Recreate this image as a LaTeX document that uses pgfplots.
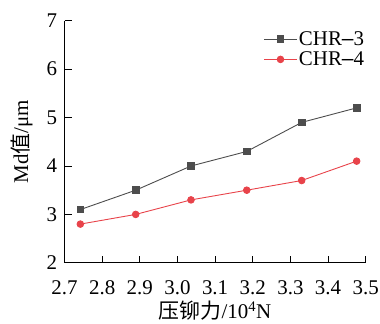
\documentclass[border=0pt]{standalone}
\usepackage{pgfplots}
\pgfplotsset{compat=1.18}
\usepackage{fontspec}
\setmainfont{Liberation Serif}
\newfontfamily\cjk{Noto Sans CJK SC}
\definecolor{cgray}{HTML}{4D4D4D}
\definecolor{cred}{HTML}{E8434A}
\begin{document}
\begin{tikzpicture}
\begin{axis}[
  scale only axis,
  width=301bp, height=242bp,
  xmin=2.7, xmax=3.5, ymin=2, ymax=7,
  xtick={2.7,2.8,...,3.5},
  xticklabels={2.7,2.8,2.9,3.0,3.1,3.2,3.3,3.4,3.5},
  ytick={2,3,4,5,6,7},
  axis x line*=bottom, axis y line*=left,
  tick align=inside,
  major tick length=7bp,
  tick style={black, line width=0.9pt},
  axis line style={black, line width=0.9pt},
  /pgf/number format/assume math mode=true,
  ticklabel style={font=\fontsize{21}{22}\selectfont},
  yticklabel style={xshift=-4bp},
  xticklabel style={yshift=-14bp},
  label style={font=\fontsize{21}{22}\selectfont},
  xlabel={{\cjk 压铆力}/10\textsuperscript{4}N},
  ylabel={Md{\cjk 值}/μm},
  xlabel style={at={(0.5,0)}, anchor=center, yshift=-48bp},
  ylabel style={at={(0,0.5)}, anchor=center, xshift=0bp, yshift=43bp},
  legend style={draw=none, fill=none, at={(1.002,0.965)}, anchor=north east, font=\fontsize{21}{20}\selectfont, row sep=1bp, inner sep=0bp},
  legend cell align=left,
  legend image code/.code={\draw[#1] (0bp,0bp) -- (32bp,0bp); \draw[#1, only marks] plot coordinates {(16bp,0bp)};},
]
\addplot[cgray, line width=0.9pt, mark=square*, mark size=3.3bp, mark options={solid}] coordinates {
(2.742,3.1) (2.889,3.5) (3.036,4.0) (3.184,4.3) (3.330,4.9) (3.476,5.2)};
\addlegendentry{CHR{\fontspec{Liberation Sans}–}3}
\addplot[cred, line width=0.9pt, mark=*, mark size=3.3bp] coordinates {
(2.742,2.8) (2.889,3.0) (3.036,3.3) (3.184,3.5) (3.330,3.7) (3.476,4.1)};
\addlegendentry{CHR{\fontspec{Liberation Sans}–}4}
\end{axis}
\pgfresetboundingbox
\path[use as bounding box] ([shift={(-64.5bp,-61bp)}]current axis.south west) rectangle ([shift={(14.3bp,20.7bp)}]current axis.north east);
\end{tikzpicture}
\end{document}
